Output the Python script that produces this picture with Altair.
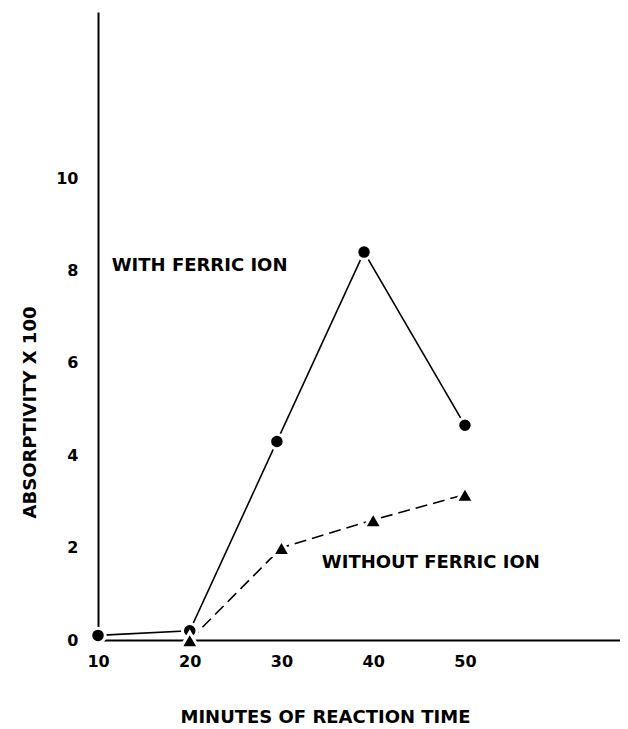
import altair as alt
import pandas as pd

# Series
with_min = [10, 20, 29.5, 39, 50]
with_abs = [0.1, 0.2, 4.3, 8.4, 4.65]
without_min = [20, 30, 40, 50]
without_abs = [0.0, 2.0, 2.6, 3.15]

x_ticks = [10, 20, 30, 40, 50]
y_ticks = [0, 2, 4, 6, 8, 10]

label_text = ["WITH FERRIC ION", "WITHOUT FERRIC ION"]
label_t = [11.5, 34.4]
label_a = [8.1, 1.67]

df_with = pd.DataFrame({"t": with_min, "a": with_abs})
df_without = pd.DataFrame({"t": without_min, "a": without_abs})
df_labels = pd.DataFrame({"t": label_t, "a": label_a, "txt": label_text})

FONT = "DejaVu Sans"

x_enc = alt.X(
    "t:Q",
    scale=alt.Scale(domain=[10, 66.9], nice=False, zero=False),
    axis=alt.Axis(
        values=x_ticks, title="MINUTES OF REACTION TIME", ticks=False, grid=False,
        domainColor="black", domainWidth=2, labelFontSize=16, labelPadding=13,
        labelColor="black", labelFont=FONT, labelFlush=False, labelFontWeight="bold",
        titleFont=FONT, titleFontSize=18, titleFontWeight="bold", titleColor="black",
        titleX=227, titleY=77, titleBaseline="middle",
    ),
)
y_enc = alt.Y(
    "a:Q",
    scale=alt.Scale(domain=[0, 13.6], nice=False),
    axis=alt.Axis(
        values=y_ticks, title="ABSORPTIVITY X 100", ticks=False, grid=False,
        domainColor="black", domainWidth=2, labelFontSize=16, labelPadding=20,
        labelColor="black", labelFont=FONT, labelFontWeight="bold",
        titleFont=FONT, titleFontSize=18, titleFontWeight="bold", titleColor="black",
        titleX=-68, titleY=400, titleBaseline="middle", titleAngle=-90,
    ),
)

line_with = alt.Chart(df_with).mark_line(color="black", strokeWidth=1.6).encode(x=x_enc, y=y_enc)
pts_with = alt.Chart(df_with).mark_point(
    shape="circle", filled=True, fill="black", stroke="white", strokeWidth=3,
    size=210, opacity=1,
).encode(x=x_enc, y=y_enc)

line_without = alt.Chart(df_without).mark_line(
    color="black", strokeWidth=1.6, strokeDash=[12, 6]
).encode(x=x_enc, y=y_enc)
pts_without = alt.Chart(df_without).mark_point(
    shape="triangle-up", filled=True, fill="black", stroke="white", strokeWidth=3,
    size=320, opacity=1,
).encode(x=x_enc, y=y_enc)

labels = alt.Chart(df_labels).mark_text(
    align="left", baseline="middle", font=FONT, fontSize=18, fontWeight="bold",
    color="black",
).encode(x=x_enc, y=y_enc, text="txt:N")

chart = (
    alt.layer(line_with, line_without, pts_with, pts_without, labels)
    .properties(
        width=522, height=628,
        padding={"left": 90, "top": 4, "right": 0, "bottom": 85},
        autosize=alt.AutoSizeParams(type="none"),
        background="white",
    )
    .configure_view(stroke=None)
)

chart.save("out.html", embed_options={"renderer": "svg", "actions": False})
